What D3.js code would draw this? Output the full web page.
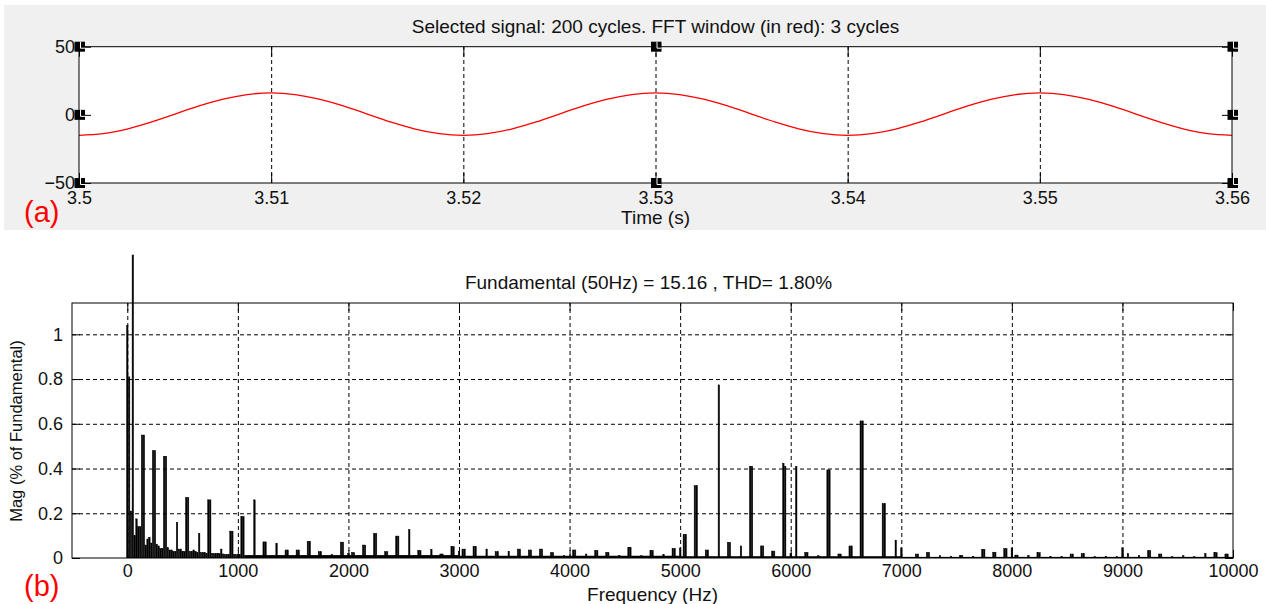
<!DOCTYPE html>
<html>
<head>
<meta charset="utf-8">
<script src="https://cdn.jsdelivr.net/npm/d3@7"></script>
<style>
body { margin: 0; background: #fff; }
svg text { font-family: "Liberation Sans", Arial, sans-serif; fill: #111; }
.grid line { stroke: #000; stroke-dasharray: 4,3; stroke-width: 1; }
.grid path { display: none; }
.ticks path { display: none; }
.ticks line { stroke: #000; }
</style>
</head>
<body>
<svg id="vis" width="1266" height="604"></svg>
<script>
var vis = d3.select("#vis");

// (a) signal, every 1.25 ms
var signal = [
  [3.50000, -15.0], [3.50125, -13.8], [3.50250, -10.4], [3.50375, -5.4], [3.50500, 0.6], [3.50625, 6.5], [3.50750, 11.5], [3.50875, 14.9],
  [3.51000, 16.1], [3.51125, 14.9], [3.51250, 11.5], [3.51375, 6.5], [3.51500, 0.6], [3.51625, -5.4], [3.51750, -10.4], [3.51875, -13.8],
  [3.52000, -15.0], [3.52125, -13.8], [3.52250, -10.4], [3.52375, -5.4], [3.52500, 0.6], [3.52625, 6.5], [3.52750, 11.5], [3.52875, 14.9],
  [3.53000, 16.1], [3.53125, 14.9], [3.53250, 11.5], [3.53375, 6.5], [3.53500, 0.6], [3.53625, -5.4], [3.53750, -10.4], [3.53875, -13.8],
  [3.54000, -15.0], [3.54125, -13.8], [3.54250, -10.4], [3.54375, -5.4], [3.54500, 0.6], [3.54625, 6.5], [3.54750, 11.5], [3.54875, 14.9],
  [3.55000, 16.1], [3.55125, 14.9], [3.55250, 11.5], [3.55375, 6.5], [3.55500, 0.6], [3.55625, -5.4], [3.55750, -10.4], [3.55875, -13.8],
  [3.56000, -15.0]
];
var timeTicks = [3.5, 3.51, 3.52, 3.53, 3.54, 3.55, 3.56];
var signalTicks = [-50, 0, 50];

// (b) spectrum, % of fundamental. one FFT bin = 50/3 Hz (3 cycle window)
var binHz = 50 / 3;
var lowMag = [1.04, 0.81, 0.21, 100, 0.10, 0.175, 0.14, 0.14, 0.55, 0.55,
  0.058, 0.085, 0.093, 0.067, 0.48, 0.48, 0.062, 0.054, 0.043, 0.043,
  0.455, 0.455, 0.046, 0.036, 0.036, 0.03, 0.03, 0.16, 0.04, 0.04,
  0.03, 0.03, 0.27, 0.27, 0.03, 0.03, 0.036, 0.03, 0.025, 0.11,
  0.025, 0.025, 0.025, 0.02, 0.26, 0.26, 0.02, 0.02, 0.02, 0.02,
  0.02, 0.04, 0.018, 0.016, 0.016, 0.016, 0.12, 0.12, 0.016, 0.016,
  0.016, 0.016, 0.185, 0.185];
var peaks = [
  [1150, 0.26], [1233.3, 0.072], [1250, 0.072], [1350, 0.066], [1433.3, 0.036], [1450, 0.036],
  [1533.3, 0.036], [1550, 0.036], [1633.3, 0.075], [1650, 0.075], [1733.3, 0.028], [1750, 0.028],
  [1850, 0.016], [1933.3, 0.071], [1950, 0.071], [2000, 0.02], [2033.3, 0.024], [2050, 0.024],
  [2133.3, 0.058], [2150, 0.058], [2233.3, 0.11], [2250, 0.11], [2333.3, 0.028], [2350, 0.028],
  [2433.3, 0.098], [2450, 0.098], [2550, 0.127], [2633.3, 0.034], [2650, 0.034], [2750, 0.039],
  [2833.3, 0.018], [2850, 0.018], [2933.3, 0.051], [2950, 0.051], [3000, 0.03], [3033.3, 0.04],
  [3050, 0.04], [3133.3, 0.052], [3150, 0.052], [3250, 0.04], [3333.3, 0.028], [3350, 0.028],
  [3450, 0.03], [3533.3, 0.04], [3550, 0.04], [3633.3, 0.036], [3650, 0.036], [3733.3, 0.04],
  [3750, 0.04], [3833.3, 0.024], [3850, 0.024], [3950, 0.01], [4033.3, 0.036], [4050, 0.036],
  [4150, 0.018], [4233.3, 0.034], [4250, 0.034], [4333.3, 0.025], [4350, 0.025], [4450, 0.012],
  [4533.3, 0.048], [4550, 0.048], [4650, 0.01], [4733.3, 0.034], [4750, 0.034], [4850, 0.016],
  [4933.3, 0.042], [4950, 0.042], [5000, 0.045], [5033.3, 0.106], [5050, 0.106], [5133.3, 0.323],
  [5150, 0.323], [5233.3, 0.036], [5250, 0.036], [5350, 0.774], [5433.3, 0.07], [5450, 0.07],
  [5550, 0.054], [5633.3, 0.41], [5650, 0.41], [5733.3, 0.054], [5750, 0.054], [5833.3, 0.031],
  [5850, 0.031], [5933.3, 0.424], [5950, 0.41], [6000, 0.02], [6050, 0.41], [6133.3, 0.025],
  [6150, 0.025], [6250, 0.01], [6333.3, 0.394], [6350, 0.394], [6433.3, 0.018], [6450, 0.018],
  [6533.3, 0.054], [6550, 0.054], [6633.3, 0.613], [6650, 0.613], [6833.3, 0.243], [6850, 0.243],
  [6950, 0.08], [7000, 0.045], [7133.3, 0.018], [7150, 0.018], [7233.3, 0.025], [7250, 0.025],
  [7350, 0.01], [7450, 0.008], [7533.3, 0.012], [7550, 0.012], [7650, 0.008], [7733.3, 0.039],
  [7750, 0.039], [7833.3, 0.026], [7850, 0.026], [7933.3, 0.042], [7950, 0.042], [8000, 0.045],
  [8033.3, 0.013], [8050, 0.013], [8150, 0.012], [8233.3, 0.024], [8250, 0.024], [8350, 0.006],
  [8450, 0.006], [8533.3, 0.018], [8550, 0.018], [8633.3, 0.02], [8650, 0.02], [8750, 0.006],
  [8850, 0.008], [8950, 0.006], [9000, 0.045], [9050, 0.02], [9150, 0.012], [9233.3, 0.033],
  [9250, 0.033], [9333.3, 0.018], [9350, 0.018], [9450, 0.006], [9550, 0.01], [9650, 0.006],
  [9750, 0.02], [9833.3, 0.024], [9850, 0.024], [9933.3, 0.018], [9950, 0.018]
];
// noise floor between the lines: [from Hz, to Hz, level]
var floorBands = [[1058, 3000, 0.013], [3000, 5000, 0.01], [5000, 7000, 0.008], [7000, 10000, 0.005]];
var freqTicks = [0, 1000, 2000, 3000, 4000, 5000, 6000, 7000, 8000, 9000, 10000];
var magTicks = [0, 0.2, 0.4, 0.6, 0.8, 1];

var topTitle = "Selected signal: 200 cycles. FFT window (in red): 3 cycles";
var botTitle = "Fundamental (50Hz) = 15.16 , THD= 1.80%";

// ---------- (a) ----------
var tx = d3.scaleLinear().domain([3.5, 3.56]).range([79, 1232]);
var sy = d3.scaleLinear().domain([-50, 50]).range([183, 46.7]);

vis.append("rect").attr("x", 4).attr("y", 5).attr("width", 1262).attr("height", 225).attr("fill", "#f0f0f0");
vis.append("rect")
    .attr("x", tx.range()[0]).attr("y", sy.range()[1])
    .attr("width", tx.range()[1] - tx.range()[0])
    .attr("height", sy.range()[0] - sy.range()[1])
    .attr("fill", "white");

var topH = sy.range()[0] - sy.range()[1];
vis.append("g").attr("class", "grid")
    .attr("transform", `translate(0 ${sy.range()[0]})`)
    .call(d3.axisBottom(tx).tickValues(timeTicks.slice(1, -1)).tickSize(-topH).tickFormat(""));

// inside ticks all round
vis.append("g").attr("class", "ticks")
    .attr("transform", `translate(0 ${sy.range()[0]})`)
    .call(d3.axisBottom(tx).tickValues(timeTicks).tickSize(-10).tickPadding(8)
        .tickFormat(d => String(+d.toFixed(2))))
    .call(g => g.selectAll("text").attr("font-size", "18px").attr("fill", "#111"));
vis.append("g").attr("class", "ticks")
    .attr("transform", `translate(0 ${sy.range()[1]})`)
    .call(d3.axisTop(tx).tickValues(timeTicks).tickSize(-10).tickFormat(""));
vis.append("g").attr("class", "ticks")
    .attr("transform", `translate(${tx.range()[0]} 0)`)
    .call(d3.axisLeft(sy).tickValues(signalTicks).tickSize(-12).tickPadding(4))
    .call(g => g.selectAll("text").attr("font-size", "18px").attr("fill", "#111"));
vis.append("g").attr("class", "ticks")
    .attr("transform", `translate(${tx.range()[1]} 0)`)
    .call(d3.axisRight(sy).tickValues(signalTicks).tickSize(-10).tickFormat(""));

var line = d3.line().x(d => tx(d[0])).y(d => sy(d[1])).curve(d3.curveNatural);
vis.append("path").datum(signal)
    .attr("d", line)
    .attr("fill", "none")
    .attr("stroke", "#ff0000")
    .attr("stroke-width", 1.3);

vis.append("rect")
    .attr("x", tx.range()[0]).attr("y", sy.range()[1])
    .attr("width", tx.range()[1] - tx.range()[0])
    .attr("height", topH)
    .attr("fill", "none").attr("stroke", "#000").attr("stroke-width", 1);

// selection handles on the corners and edge midpoints
var hx = [tx.range()[0], (tx.range()[0] + tx.range()[1]) / 2, tx.range()[1]];
var hy = [sy.range()[1], sy(0), sy.range()[0]];
var handles = [];
hx.forEach((x, i) => hy.forEach((y, j) => { if (!(i == 1 && j == 1)) handles.push([x, y]); }));
vis.selectAll(".handle").data(handles).enter().append("rect")
    .attr("class", "handle")
    .attr("x", d => d[0] - 4.5).attr("y", d => d[1] - 5)
    .attr("width", 10.5).attr("height", 10)
    .attr("fill", "#000");
vis.selectAll(".handlemark").data(handles).enter().append("path")
    .attr("class", "handlemark")
    .attr("d", d => `M${d[0] + 1.5},${d[1] - 5}V${d[1] + 1.5}H${d[0] + 6}`)
    .attr("fill", "none").attr("stroke", "#fff").attr("stroke-width", 1);

vis.append("text").attr("x", (tx.range()[0] + tx.range()[1]) / 2).attr("y", 33)
    .attr("text-anchor", "middle").attr("font-size", "19px").text(topTitle);
vis.append("text").attr("x", (tx.range()[0] + tx.range()[1]) / 2).attr("y", 224)
    .attr("text-anchor", "middle").attr("font-size", "19px").text("Time (s)");

// ---------- (b) ----------
var fx = d3.scaleLinear().domain([-500, 10000]).range([72, 1233]);
var my = d3.scaleLinear().domain([0, 1.14]).range([558, 303]);
var botH = my.range()[0] - my.range()[1];

vis.append("g").attr("class", "grid")
    .attr("transform", `translate(0 ${my.range()[0]})`)
    .call(d3.axisBottom(fx).tickValues(freqTicks.slice(0, -1)).tickSize(-botH).tickFormat(""));
vis.append("g").attr("class", "grid")
    .attr("transform", `translate(${fx.range()[0]} 0)`)
    .call(d3.axisLeft(my).tickValues(magTicks.slice(1)).tickSize(-(fx.range()[1] - fx.range()[0])).tickFormat(""));

// the fundamental bar runs off the top of the axes, clip it at the figure edge
vis.append("clipPath").attr("id", "clipb").append("rect")
    .attr("x", fx.range()[0]).attr("y", my(1.356))
    .attr("width", fx.range()[1] - fx.range()[0])
    .attr("height", my.range()[0] - my(1.356));

var bars = lowMag.map((m, k) => [k * binHz, m]).concat(peaks);
var barW = fx(0.8 * binHz) - fx(0);
var bg = vis.append("g").attr("clip-path", "url(#clipb)");
bg.selectAll(".floor").data(floorBands).enter().append("rect")
    .attr("class", "floor")
    .attr("x", d => fx(d[0])).attr("width", d => fx(d[1]) - fx(d[0]))
    .attr("y", d => my(d[2])).attr("height", d => my(0) - my(d[2]))
    .attr("fill", "#000");
// bars keep matlab's thin black edge
bg.selectAll(".bar").data(bars).enter().append("rect")
    .attr("class", "bar")
    .attr("x", d => fx(d[0] - 0.4 * binHz))
    .attr("width", barW)
    .attr("y", d => my(Math.min(d[1], 2)))
    .attr("height", d => my(0) - my(Math.min(d[1], 2)))
    .attr("fill", "#000")
    .attr("stroke", "#000")
    .attr("stroke-width", 0.45);

vis.append("g").attr("class", "ticks")
    .attr("transform", `translate(0 ${my.range()[0]})`)
    .call(d3.axisBottom(fx).tickValues(freqTicks).tickSize(-8).tickPadding(6).tickFormat(d => String(d)))
    .call(g => g.selectAll("text").attr("font-size", "18px").attr("fill", "#111"));
vis.append("g").attr("class", "ticks")
    .attr("transform", `translate(0 ${my.range()[1]})`)
    .call(d3.axisTop(fx).tickValues(freqTicks).tickSize(-8).tickFormat(""));
vis.append("g").attr("class", "ticks")
    .attr("transform", `translate(${fx.range()[0]} 0)`)
    .call(d3.axisLeft(my).tickValues(magTicks).tickSize(-8).tickPadding(9).tickFormat(d => String(d)))
    .call(g => g.selectAll("text").attr("font-size", "18px").attr("fill", "#111"));
vis.append("g").attr("class", "ticks")
    .attr("transform", `translate(${fx.range()[1]} 0)`)
    .call(d3.axisRight(my).tickValues(magTicks).tickSize(-8).tickFormat(""));

vis.append("rect")
    .attr("x", fx.range()[0]).attr("y", my.range()[1])
    .attr("width", fx.range()[1] - fx.range()[0])
    .attr("height", botH)
    .attr("fill", "none").attr("stroke", "#000").attr("stroke-width", 1);

vis.append("text").attr("x", (fx.range()[0] + fx.range()[1]) / 2 - 4).attr("y", 289)
    .attr("text-anchor", "middle").attr("font-size", "19px").text(botTitle);
vis.append("text").attr("x", (fx.range()[0] + fx.range()[1]) / 2).attr("y", 601)
    .attr("text-anchor", "middle").attr("font-size", "19px").text("Frequency (Hz)");
vis.append("text").attr("transform", "translate(22 431) rotate(-90)")
    .attr("text-anchor", "middle").attr("font-size", "16.5px").text("Mag (% of Fundamental)");

// panel letters
vis.append("text").attr("x", 24).attr("y", 222)
    .attr("font-family", "'Open Sans', sans-serif").attr("font-size", "29px")
    .style("fill", "#ff0000").text("(a)");
vis.append("text").attr("x", 24).attr("y", 596)
    .attr("font-family", "'Open Sans', sans-serif").attr("font-size", "29px")
    .style("fill", "#ff0000").text("(b)");
</script>
</body>
</html>
